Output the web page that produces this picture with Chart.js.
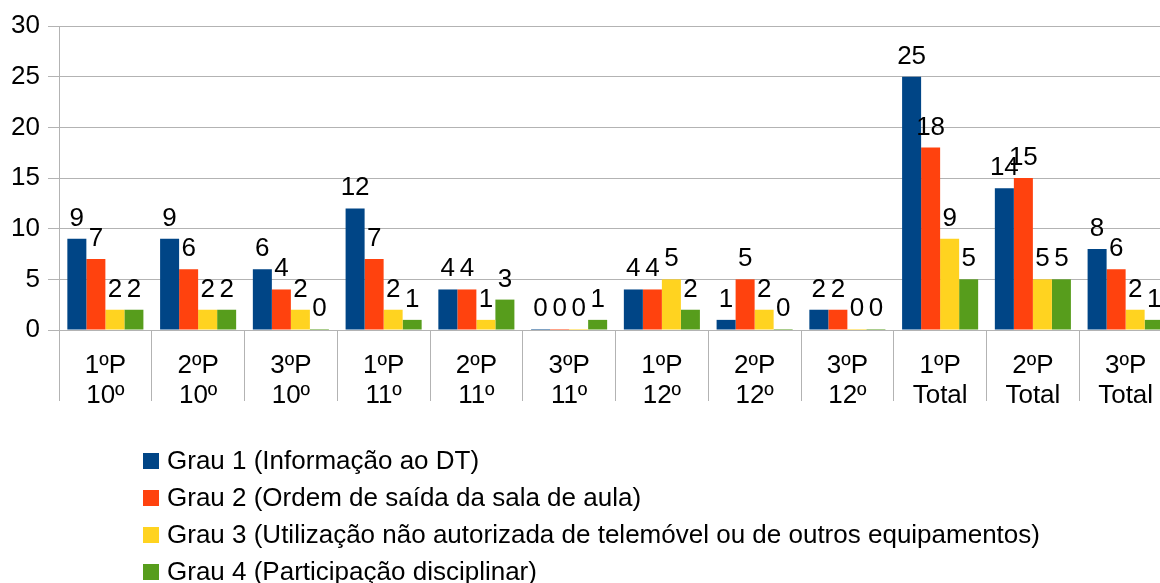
<!DOCTYPE html>
<html>
<head>
<meta charset="utf-8">
<script src="https://cdn.jsdelivr.net/npm/chart.js@4/dist/chart.umd.min.js"></script>
<style>
  html, body { margin: 0; padding: 0; background: #fff; overflow: hidden; width: 1160px; height: 583px; }
  #wrap { position: relative; width: 1160px; height: 583px; overflow: hidden; }
  canvas { position: absolute; left: 0; top: 0; }
  #legend { position: absolute; left: 143px; top: 442px; font-family: "Liberation Sans", Arial, sans-serif; font-size: 26px; color: #000; }
  .li { height: 37px; line-height: 37px; display: flex; align-items: center; white-space: nowrap; }
  .box { width: 16px; height: 16px; margin-right: 8px; flex: none; }
</style>
</head>
<body>
<div id="wrap">
  <canvas id="c" width="1172" height="583"></canvas>
  <div id="legend"></div>
</div>
<script>
const categories = [
  ["1ºP", "10º"], ["2ºP", "10º"], ["3ºP", "10º"],
  ["1ºP", "11º"], ["2ºP", "11º"], ["3ºP", "11º"],
  ["1ºP", "12º"], ["2ºP", "12º"], ["3ºP", "12º"],
  ["1ºP", "Total"], ["2ºP", "Total"], ["3ºP", "Total"]
];
const seriesNames = [
  "Grau 1 (Informação ao DT)",
  "Grau 2 (Ordem de saída da sala de aula)",
  "Grau 3 (Utilização não autorizada de telemóvel ou de outros equipamentos)",
  "Grau 4 (Participação disciplinar)"
];
const grau1 = [9, 9, 6, 12, 4, 0, 4, 1, 2, 25, 14, 8];
const grau2 = [7, 6, 4, 7, 4, 0, 4, 5, 2, 18, 15, 6];
const grau3 = [2, 2, 2, 2, 1, 0, 5, 2, 0, 9, 5, 2];
const grau4 = [2, 2, 0, 1, 3, 1, 2, 0, 0, 5, 5, 1];
const yTicks = [0, 5, 10, 15, 20, 25, 30];
const colors = ["#004586", "#ff420e", "#ffd320", "#579d1c"];

const FONT = '"Liberation Sans", Arial, sans-serif';
const allSeries = [grau1, grau2, grau3, grau4];

const valueLabels = {
  id: 'valueLabels',
  afterDatasetsDraw(chart) {
    const ctx = chart.ctx;
    ctx.save();
    ctx.font = '26px ' + FONT;
    ctx.fillStyle = '#000';
    ctx.textAlign = 'center';
    ctx.textBaseline = 'alphabetic';
    chart.data.datasets.forEach((ds, i) => {
      const meta = chart.getDatasetMeta(i);
      meta.data.forEach((bar, j) => {
        ctx.fillText(String(ds.data[j]), bar.x, bar.y - 13);
      });
    });
    ctx.restore();
  }
};

const chart = new Chart(document.getElementById('c'), {
  type: 'bar',
  data: {
    labels: categories,
    datasets: allSeries.map((d, i) => ({
      label: seriesNames[i],
      data: d,
      backgroundColor: colors[i],
      borderWidth: 0,
      minBarLength: 1,
      categoryPercentage: 0.82,
      barPercentage: 1.0
    }))
  },
  options: {
    responsive: false,
    animation: false,
    layout: { padding: { top: 26, right: 0, left: 0, bottom: 163 } },
    plugins: { legend: { display: false }, tooltip: { enabled: false } },
    scales: {
      x: {
        offset: true,
        grid: { offset: true, drawOnChartArea: false, drawTicks: true, tickLength: 71, color: '#b3b3b3', lineWidth: 1 },
        border: { display: true, color: '#b3b3b3' },
        ticks: { font: { family: FONT, size: 26, lineHeight: 1.15 }, color: '#000', padding: -50, maxRotation: 0, autoSkip: false },
        afterFit: s => { s.height = 90; }
      },
      y: {
        min: 0, max: 30,
        afterBuildTicks: s => { s.ticks = yTicks.map(v => ({ value: v })); },
        grid: { color: '#b3b3b3', tickLength: 11, lineWidth: 1 },
        border: { display: true, color: '#b3b3b3' },
        ticks: { font: { family: FONT, size: 26 }, color: '#000', padding: 8 },
        afterFit: s => { s.width = 59; }
      }
    }
  },
  plugins: [valueLabels]
});

const legend = document.getElementById('legend');
seriesNames.forEach((n, i) => {
  const row = document.createElement('div');
  row.className = 'li';
  const b = document.createElement('span');
  b.className = 'box';
  b.style.background = colors[i];
  const t = document.createElement('span');
  t.textContent = n;
  row.appendChild(b); row.appendChild(t);
  legend.appendChild(row);
});
</script>
</body>
</html>
